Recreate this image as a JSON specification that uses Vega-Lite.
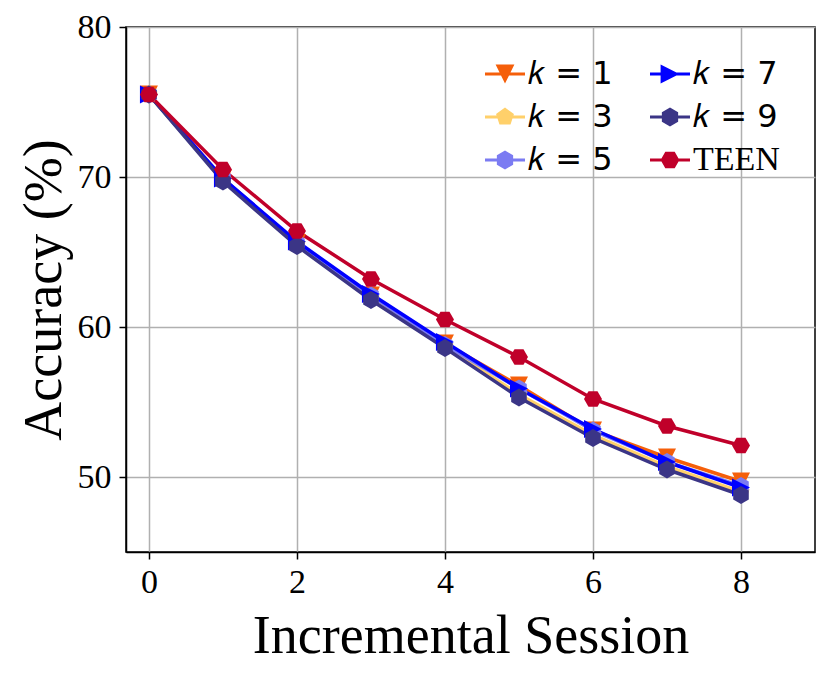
{
  "$schema": "https://vega.github.io/schema/vega-lite/v6.json",
  "width": 689,
  "height": 525,
  "autosize": "none",
  "padding": {"left": 126, "top": 27, "right": 15, "bottom": 122},
  "background": "white",
  "config": {
    "view": {"stroke": "black", "strokeWidth": 1.5},
    "axis": {
      "labelFont": "Liberation Serif",
      "labelFontSize": 34,
      "labelColor": "black",
      "titleFont": "Liberation Serif",
      "titleFontSize": 54,
      "titleFontWeight": "normal",
      "titleColor": "black",
      "tickColor": "black",
      "tickSize": 7,
      "tickWidth": 1.5,
      "domainColor": "black",
      "domainWidth": 1.5,
      "gridColor": "#b0b0b0",
      "gridWidth": 1.5,
      "gridOpacity": 1
    }
  },
  "data": {
    "values": [
      {"session": 0, "acc": 75.5, "series": "k = 1"},
      {"session": 1, "acc": 69.9, "series": "k = 1"},
      {"session": 2, "acc": 65.6, "series": "k = 1"},
      {"session": 3, "acc": 62.1, "series": "k = 1"},
      {"session": 4, "acc": 58.9, "series": "k = 1"},
      {"session": 5, "acc": 56.1, "series": "k = 1"},
      {"session": 6, "acc": 53.1, "series": "k = 1"},
      {"session": 7, "acc": 51.3, "series": "k = 1"},
      {"session": 8, "acc": 49.7, "series": "k = 1"},
      {"session": 0, "acc": 75.5, "series": "k = 3"},
      {"session": 1, "acc": 69.8, "series": "k = 3"},
      {"session": 2, "acc": 65.5, "series": "k = 3"},
      {"session": 3, "acc": 61.9, "series": "k = 3"},
      {"session": 4, "acc": 58.7, "series": "k = 3"},
      {"session": 5, "acc": 55.5, "series": "k = 3"},
      {"session": 6, "acc": 52.8, "series": "k = 3"},
      {"session": 7, "acc": 50.7, "series": "k = 3"},
      {"session": 8, "acc": 49.0, "series": "k = 3"},
      {"session": 0, "acc": 75.5, "series": "k = 5"},
      {"session": 1, "acc": 69.9, "series": "k = 5"},
      {"session": 2, "acc": 65.6, "series": "k = 5"},
      {"session": 3, "acc": 62.1, "series": "k = 5"},
      {"session": 4, "acc": 58.8, "series": "k = 5"},
      {"session": 5, "acc": 55.9, "series": "k = 5"},
      {"session": 6, "acc": 53.1, "series": "k = 5"},
      {"session": 7, "acc": 51.0, "series": "k = 5"},
      {"session": 8, "acc": 49.4, "series": "k = 5"},
      {"session": 0, "acc": 75.5, "series": "k = 7"},
      {"session": 1, "acc": 69.9, "series": "k = 7"},
      {"session": 2, "acc": 65.7, "series": "k = 7"},
      {"session": 3, "acc": 62.2, "series": "k = 7"},
      {"session": 4, "acc": 59.0, "series": "k = 7"},
      {"session": 5, "acc": 55.9, "series": "k = 7"},
      {"session": 6, "acc": 53.2, "series": "k = 7"},
      {"session": 7, "acc": 51.0, "series": "k = 7"},
      {"session": 8, "acc": 49.3, "series": "k = 7"},
      {"session": 0, "acc": 75.5, "series": "k = 9"},
      {"session": 1, "acc": 69.7, "series": "k = 9"},
      {"session": 2, "acc": 65.4, "series": "k = 9"},
      {"session": 3, "acc": 61.8, "series": "k = 9"},
      {"session": 4, "acc": 58.6, "series": "k = 9"},
      {"session": 5, "acc": 55.3, "series": "k = 9"},
      {"session": 6, "acc": 52.6, "series": "k = 9"},
      {"session": 7, "acc": 50.5, "series": "k = 9"},
      {"session": 8, "acc": 48.8, "series": "k = 9"},
      {"session": 0, "acc": 75.5, "series": "TEEN"},
      {"session": 1, "acc": 70.5, "series": "TEEN"},
      {"session": 2, "acc": 66.4, "series": "TEEN"},
      {"session": 3, "acc": 63.2, "series": "TEEN"},
      {"session": 4, "acc": 60.5, "series": "TEEN"},
      {"session": 5, "acc": 58.0, "series": "TEEN"},
      {"session": 6, "acc": 55.2, "series": "TEEN"},
      {"session": 7, "acc": 53.4, "series": "TEEN"},
      {"session": 8, "acc": 52.1, "series": "TEEN"}
    ]
  },
  "encoding": {
    "x": {
      "field": "session",
      "type": "quantitative",
      "title": "Incremental Session",
      "scale": {"domain": [-0.31, 9.0], "nice": false, "zero": false},
      "axis": {"values": [0, 2, 4, 6, 8], "labelPadding": 6, "titlePadding": 10}
    },
    "y": {
      "field": "acc",
      "type": "quantitative",
      "title": "Accuracy (%)",
      "scale": {"domain": [45, 80], "nice": false, "zero": false},
      "axis": {"values": [50, 60, 70, 80], "labelPadding": 8, "titlePadding": 6}
    },
    "color": {
      "field": "series",
      "type": "nominal",
      "scale": {
        "domain": ["k = 1", "k = 7", "k = 3", "k = 9", "k = 5", "TEEN"],
        "range": ["#f55f0a", "#0000ff", "#ffd06a", "#3b3586", "#7b7bf2", "#c0002a"]
      },
      "legend": {
        "title": null,
        "orient": "none",
        "legendX": 359,
        "legendY": 27,
        "columns": 2,
        "direction": "horizontal",
        "padding": 0,
        "columnPadding": 37,
        "rowPadding": 7,
        "symbolSize": 1600,
        "symbolStrokeWidth": 0,
        "symbolOpacity": 1,
        "labelOffset": 3,
        "labelFont": "DejaVu Sans",
        "labelFontSize": 32,
        "labelColor": "black",
        "labelLimit": 300,
        "labelExpr": "replace(datum.label, 'k', '𝑘')",
        "encode": {
          "symbols": {
            "update": {
              "fill": {"signal": "scale('color', datum.value)"},
              "fillOpacity": {"value": 1},
              "stroke": {"value": "transparent"},
              "shape": {"signal": "datum.value === 'k = 1' ? 'M-1,-0.075H1V0.075H-1Z M-0.47,-0.47L0.47,-0.47L0,0.47Z' : datum.value === 'k = 3' ? 'M-1,-0.075H1V0.075H-1Z M0,-0.47L0.447,-0.145L0.276,0.38L-0.276,0.38L-0.447,-0.145Z' : datum.value === 'k = 7' ? 'M-1,-0.075H1V0.075H-1Z M-0.47,-0.47L0.47,0L-0.47,0.47Z' : datum.value === 'TEEN' ? 'M-1,-0.075H1V0.075H-1Z M0.47,0L0.235,0.407L-0.235,0.407L-0.47,0L-0.235,-0.407L0.235,-0.407Z' : 'M-1,-0.075H1V0.075H-1Z M0,-0.47L0.407,-0.235L0.407,0.235L0,0.47L-0.407,0.235L-0.407,-0.235Z'"}
            }
          },
          "labels": {
            "update": {
              "font": {"signal": "datum.label === 'TEEN' ? 'Liberation Serif' : 'DejaVu Sans'"},
              "fontSize": {"signal": "datum.label === 'TEEN' ? 34 : 32"}
            }
          }
        }
      }
    }
  },
  "layer": [
    {
      "mark": {"type": "line", "strokeWidth": 3.5},
      "encoding": {"detail": {"field": "series"}}
    },
    {
      "mark": {"type": "point", "filled": true, "opacity": 1, "size": 324, "strokeWidth": 0},
      "encoding": {
        "shape": {
          "condition": [
            {"test": "datum.series === 'k = 1'", "value": "M-1,-1L1,-1L0,1Z"},
            {"test": "datum.series === 'k = 7'", "value": "M-1,-1L1,0L-1,1Z"},
            {"test": "datum.series === 'k = 3'", "value": "M0,-1L0.951,-0.309L0.588,0.809L-0.588,0.809L-0.951,-0.309Z"},
            {"test": "datum.series === 'TEEN'", "value": "M1,0L0.5,0.866L-0.5,0.866L-1,0L-0.5,-0.866L0.5,-0.866Z"}
          ],
          "value": "M0,-1L0.866,-0.5L0.866,0.5L0,1L-0.866,0.5L-0.866,-0.5Z"
        }
      }
    }
  ]
}
